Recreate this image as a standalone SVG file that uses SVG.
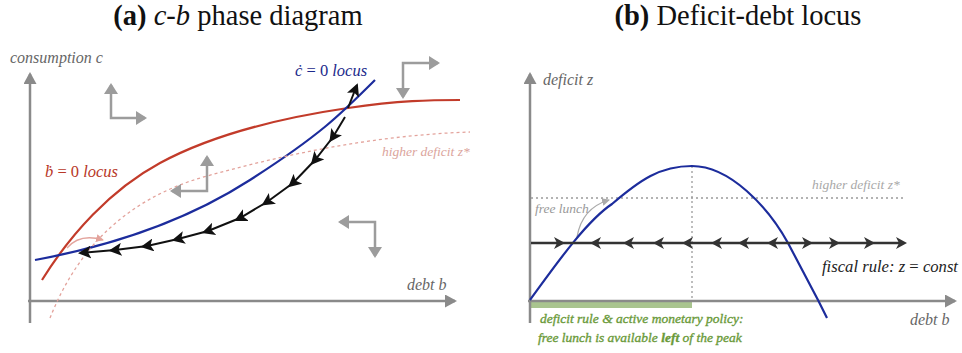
<svg xmlns="http://www.w3.org/2000/svg" width="962" height="353" viewBox="0 0 962 353">
<style>
.title{font-family:"Liberation Serif",serif;font-size:28.5px;fill:#111}
.lbl{font-family:"Liberation Serif",serif;font-style:italic;fill:#666;font-size:16px}
.axis{stroke:#8a8a8a;stroke-width:2.5;fill:none}
.phase{stroke:#9c9c9c;stroke-width:2.5;fill:none}
.red{stroke:#c23b2a;stroke-width:2.2;fill:none}
.blue{stroke:#1c2c9c;stroke-width:2.2;fill:none}
.pinkdot{stroke:#e3a39c;stroke-width:1.3;fill:none;stroke-dasharray:3 3}
.graydot{stroke:#9a9a9a;stroke-width:1.3;fill:none;stroke-dasharray:2 3}
.traj{stroke:#111;stroke-width:2;fill:none}
.green{font-family:"Liberation Serif",serif;font-style:italic;fill:#6a9a3a;stroke:#6a9a3a;stroke-width:0.35;font-size:13.5px}
</style>
<defs>
<marker id="axh" markerUnits="userSpaceOnUse" viewBox="0 0 12 13" refX="10" refY="6.5" markerWidth="12" markerHeight="13" orient="auto"><path d="M0,0 L12,6.5 L0,13 Z" fill="#8a8a8a"/></marker>
<marker id="phh" markerUnits="userSpaceOnUse" viewBox="0 0 11 14" refX="9" refY="7" markerWidth="11" markerHeight="14" orient="auto-start-reverse"><path d="M0,0 L11,7 L0,14 Z" fill="#9c9c9c"/></marker>
<marker id="blk" markerUnits="userSpaceOnUse" viewBox="0 0 13 13" refX="6.5" refY="6.5" markerWidth="13" markerHeight="13" orient="auto"><path d="M0,0 L13,6.5 L0,13 L3,6.5 Z" fill="#111"/></marker>
<marker id="blkend" markerUnits="userSpaceOnUse" viewBox="0 0 13 13" refX="11" refY="6.5" markerWidth="13" markerHeight="13" orient="auto"><path d="M0,0 L13,6.5 L0,13 L3,6.5 Z" fill="#111"/></marker>
<marker id="pinkh" markerUnits="userSpaceOnUse" viewBox="0 0 8 8" refX="7" refY="4" markerWidth="8" markerHeight="8" orient="auto"><path d="M0,0 L8,4 L0,8 Z" fill="#e3a39c"/></marker>
<marker id="grayh" markerUnits="userSpaceOnUse" viewBox="0 0 8 8" refX="7" refY="4" markerWidth="8" markerHeight="8" orient="auto"><path d="M0,0 L8,4 L0,8 Z" fill="#aaa"/></marker>
<path id="tri" d="M0,0 L-11,-6 L-8,0 L-11,6 Z" fill="#333"/>
</defs>

<!-- Titles -->
<text class="title" x="238" y="25" text-anchor="middle"><tspan font-weight="bold">(a)</tspan> <tspan font-style="italic">c</tspan>-<tspan font-style="italic">b</tspan> phase diagram</text>
<text class="title" x="738" y="25" text-anchor="middle"><tspan font-weight="bold">(b)</tspan> Deficit-debt locus</text>

<!-- Panel (a) -->
<g id="axes-a">
<line class="axis" x1="30" y1="323" x2="30" y2="74" marker-end="url(#axh)"/>
<line class="axis" x1="28" y1="301" x2="455" y2="301" marker-end="url(#axh)"/>
<text class="lbl" x="10" y="63" font-size="15.5">consumption c</text>
<text class="lbl" x="407" y="290">debt b</text>
</g>

<g id="bdot-locus">
<path class="red" d="M42,280 C70,235 110,190 160,163 S280,118 348,108 C400,100.5 430,100 460,100"/>
<text x="45" y="177" font-family="Liberation Serif,serif" font-size="16.5" fill="#b83828"><tspan font-style="italic">ḃ</tspan> = 0 <tspan font-style="italic">locus</tspan></text>
</g>

<g id="cdot-locus">
<path class="blue" d="M35,260 C100,248 180,225 250,180 S340,115 375,80"/>
<text x="295" y="76" font-family="Liberation Serif,serif" font-size="16.5" fill="#1c2a8c"><tspan font-style="italic">ċ</tspan> = 0 <tspan font-style="italic">locus</tspan></text>
</g>

<g id="higher-deficit-a">
<path class="pinkdot" d="M50,318 C75,255 120,200 207,176 S380,135 470,132"/>
<text x="382" y="156" font-family="Liberation Serif,serif" font-style="italic" font-size="13.5" fill="#dba49c">higher deficit z*</text>
</g>

<g id="phase-arrows">
<path class="phase" d="M111,85 L111,118 L145,118" marker-start="url(#phh)" marker-end="url(#phh)"/>
<path class="phase" d="M403,97 L403,63 L438,63" marker-start="url(#phh)" marker-end="url(#phh)"/>
<path class="phase" d="M207,157 L207,191 L172,191" marker-start="url(#phh)" marker-end="url(#phh)"/>
<path class="phase" d="M340,222 L375,222 L375,256" marker-start="url(#phh)" marker-end="url(#phh)"/>
</g>

<g id="connectors">
<polyline class="traj" points="345,117 333,137 315,160 293,183 267,202 240,218 208,231 178,239 147,246 115,250 80,253" marker-mid="url(#blk)" marker-end="url(#blkend)"/>
<line class="traj" x1="348" y1="108" x2="357" y2="85" marker-end="url(#blkend)"/>
<path d="M67,248 Q80,233 103,240" stroke="#e3a39c" stroke-width="1.3" fill="none" marker-end="url(#pinkh)"/>
<path d="M577,237 Q582,208 609,200" stroke="#aaa" stroke-width="1.3" fill="none" marker-end="url(#grayh)"/>
</g>

<!-- Panel (b) -->
<g id="axes-b">
<rect x="530" y="301" width="162" height="7" fill="#a9c48f"/>
<line class="axis" x1="530" y1="323" x2="530" y2="74" marker-end="url(#axh)"/>
<line class="axis" x1="528" y1="301" x2="955" y2="301" marker-end="url(#axh)"/>
<text class="lbl" x="543" y="85">deficit z</text>
<text class="lbl" x="910" y="325">debt b</text>
</g>

<g id="guides-b">
<line class="graydot" x1="692" y1="166" x2="692" y2="300"/>
<line class="graydot" x1="531" y1="198" x2="903" y2="198"/>
<text x="812" y="189" font-family="Liberation Serif,serif" font-style="italic" font-size="13.5" fill="#a8a8a8">higher deficit z*</text>
<text x="535" y="213" font-family="Liberation Serif,serif" font-style="italic" font-size="13.5" fill="#999">free lunch</text>
</g>

<g id="locus-b">
<path class="blue" d="M530,300 C552,270 585,222 612,204 C640,180 660,166 692,166 C730,166 768,207 788,243 L818,300 L827,318"/>
</g>

<g id="fiscal-rule">
<line x1="531" y1="243" x2="900" y2="243" stroke="#333" stroke-width="2.5"/>
<use href="#tri" x="565" y="243"/>
<use href="#tri" transform="translate(590,243) scale(-1,1)"/>
<use href="#tri" transform="translate(623,243) scale(-1,1)"/>
<use href="#tri" transform="translate(653,243) scale(-1,1)"/>
<use href="#tri" transform="translate(682,243) scale(-1,1)"/>
<use href="#tri" transform="translate(711,243) scale(-1,1)"/>
<use href="#tri" transform="translate(738,243) scale(-1,1)"/>
<use href="#tri" transform="translate(767,243) scale(-1,1)"/>
<use href="#tri" x="813" y="243"/>
<use href="#tri" x="840" y="243"/>
<use href="#tri" x="875" y="243"/>
<use href="#tri" x="907" y="243"/>
<text x="822" y="272" font-family="Liberation Serif,serif" font-size="17" fill="#222" textLength="136" lengthAdjust="spacingAndGlyphs"><tspan font-style="italic">fiscal rule: z</tspan> = <tspan font-style="italic">const</tspan></text>
</g>

<g id="green-note">
<text class="green" x="540" y="323">deficit rule &amp; active monetary policy:</text>
<text class="green" x="538" y="342">free lunch is available <tspan font-weight="bold">left</tspan> of the peak</text>
</g>
</svg>
